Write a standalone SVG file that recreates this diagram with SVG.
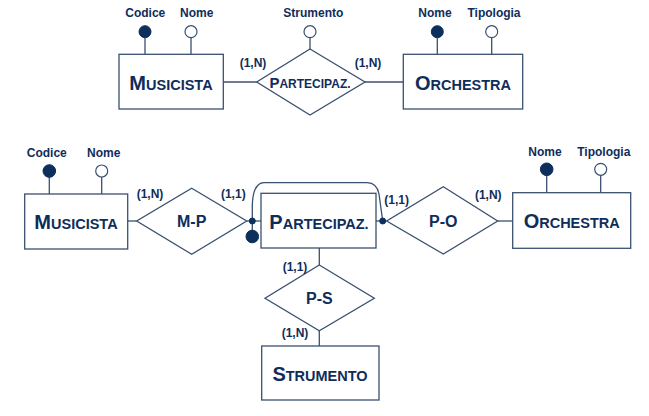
<svg xmlns="http://www.w3.org/2000/svg" width="649" height="416" viewBox="0 0 649 416">
<style>
.box{fill:#fff;stroke:#3a5070;stroke-width:1.3}
.ln{fill:none;stroke:#3a5070;stroke-width:1.3}
.key{fill:#0d2f5c;stroke:#0d2f5c;stroke-width:1}
.att{fill:#fff;stroke:#3a5070;stroke-width:1.2}
text{font-family:"Liberation Sans",Arial,sans-serif;font-weight:bold;fill:#0f2d5a}
.lab{font-size:12px;text-anchor:middle}
.card{font-size:12px;text-anchor:middle}
.ent{text-anchor:middle;font-size:14.5px}
.big{font-size:20px}
.rel{font-size:16px;text-anchor:middle}
</style>
<rect width="649" height="416" fill="#fff"/>

<g id="connectors">
  <!-- top -->
  <line class="ln" x1="223.3" y1="82" x2="256.7" y2="82"/>
  <line class="ln" x1="365" y1="82" x2="403.3" y2="82"/>
  <line class="ln" x1="145" y1="37.7" x2="145" y2="54.3"/>
  <line class="ln" x1="191" y1="37.7" x2="191" y2="54.3"/>
  <line class="ln" x1="310" y1="37.7" x2="310" y2="49"/>
  <line class="ln" x1="437.3" y1="37.7" x2="437.3" y2="54.3"/>
  <line class="ln" x1="491.7" y1="37.7" x2="491.7" y2="54.3"/>
  <!-- bottom -->
  <line class="ln" x1="49.3" y1="177" x2="49.3" y2="194"/>
  <line class="ln" x1="101.7" y1="177" x2="101.7" y2="194"/>
  <line class="ln" x1="546.7" y1="175" x2="546.7" y2="192.7"/>
  <line class="ln" x1="600.7" y1="175" x2="600.7" y2="192.7"/>
  <line class="ln" x1="127.7" y1="221" x2="136.7" y2="221"/>
  <line class="ln" x1="246.7" y1="221" x2="261" y2="221"/>
  <line class="ln" x1="376" y1="221" x2="386.7" y2="221"/>
  <line class="ln" x1="497.7" y1="221" x2="512.7" y2="221"/>
  <line class="ln" x1="319.3" y1="248" x2="319.3" y2="265"/>
  <line class="ln" x1="319.3" y1="330.7" x2="319.3" y2="346"/>
  <path class="ln" d="M252.3,221 L252.3,205 Q253,183 264,182.7 L367,182.7 Q377,183 379,194 L382.7,221"/>
  <line class="ln" x1="252.3" y1="221" x2="252.3" y2="231"/>
  <circle class="key" cx="252.3" cy="221" r="3"/>
  <circle class="key" cx="382.7" cy="221" r="3"/>
  <circle class="key" cx="252.3" cy="236.5" r="6.3"/>
</g>

<!-- top diagram -->
<g id="top-musicista">
  <rect class="box" x="119" y="54.3" width="104.3" height="54.7"/>
  <text class="ent" x="171" y="89.5"><tspan class="big">M</tspan>USICISTA</text>
</g>
<g id="top-musicista-codice">
  <circle class="key" cx="145" cy="31.7" r="6"/>
  <text class="lab" x="145.3" y="17">Codice</text>
</g>
<g id="top-musicista-nome">
  <circle class="att" cx="191" cy="31.7" r="6"/>
  <text class="lab" x="196.7" y="17">Nome</text>
</g>
<g id="top-partecipaz">
  <polygon class="box" points="310,49 365,82 310,115 256.7,82"/>
  <text x="310" y="87.5" text-anchor="middle" font-size="12px"><tspan font-size="15px">P</tspan>ARTECIPAZ.</text>
  <text class="card" x="253" y="67">(1,N)</text>
  <text class="card" x="368" y="67">(1,N)</text>
</g>
<g id="top-strumento">
  <circle class="att" cx="310" cy="31.7" r="6"/>
  <text class="lab" x="313.3" y="17">Strumento</text>
</g>
<g id="top-orchestra">
  <rect class="box" x="403.3" y="54.3" width="119.4" height="54.7"/>
  <text class="ent" x="463" y="89.5"><tspan class="big">O</tspan>RCHESTRA</text>
</g>
<g id="top-orchestra-nome">
  <circle class="key" cx="437.3" cy="31.7" r="6"/>
  <text class="lab" x="435" y="17">Nome</text>
</g>
<g id="top-orchestra-tipologia">
  <circle class="att" cx="491.7" cy="31.7" r="6"/>
  <text class="lab" x="494" y="17">Tipologia</text>
</g>

<!-- bottom diagram -->
<g id="musicista">
  <rect class="box" x="24.7" y="194" width="103" height="55"/>
  <text class="ent" x="76" y="228.5"><tspan class="big">M</tspan>USICISTA</text>
</g>
<g id="musicista-codice">
  <circle class="key" cx="49.3" cy="171" r="6.3"/>
  <text class="lab" x="46.8" y="157">Codice</text>
</g>
<g id="musicista-nome">
  <circle class="att" cx="101.7" cy="171" r="6"/>
  <text class="lab" x="103.7" y="157">Nome</text>
</g>
<g id="mp">
  <polygon class="box" points="191.7,188.3 246.7,221 191.7,254.3 136.7,221"/>
  <text class="rel" x="191.7" y="227">M-P</text>
  <text class="card" x="150" y="198">(1,N)</text>
  <text class="card" x="233.3" y="198">(1,1)</text>
</g>
<g id="partecipaz">
  <rect class="box" x="261" y="193.3" width="115" height="54.7"/>
  <text class="ent" x="319" y="228.5"><tspan class="big">P</tspan>ARTECIPAZ.</text>
</g>
<g id="po">
  <polygon class="box" points="443.3,186.7 497.7,221 443.3,254 386.7,221"/>
  <text class="rel" x="443.3" y="227">P-O</text>
  <text class="card" x="396.7" y="204">(1,1)</text>
  <text class="card" x="488.3" y="199">(1,N)</text>
</g>
<g id="orchestra">
  <rect class="box" x="512.7" y="192.7" width="118" height="55.6"/>
  <text class="ent" x="571.7" y="228"><tspan class="big">O</tspan>RCHESTRA</text>
</g>
<g id="orchestra-nome">
  <circle class="key" cx="546.7" cy="169.3" r="6.3"/>
  <text class="lab" x="545" y="156">Nome</text>
</g>
<g id="orchestra-tipologia">
  <circle class="att" cx="600.7" cy="169.3" r="6"/>
  <text class="lab" x="603.8" y="156">Tipologia</text>
</g>
<g id="ps">
  <polygon class="box" points="319.3,265 374.3,298.3 319.3,330.7 265,298.3"/>
  <text class="rel" x="319.3" y="304">P-S</text>
  <text class="card" x="295" y="271">(1,1)</text>
  <text class="card" x="295" y="337">(1,N)</text>
</g>
<g id="strumento">
  <rect class="box" x="261.7" y="346" width="117.3" height="54"/>
  <text class="ent" x="320" y="381"><tspan class="big">S</tspan>TRUMENTO</text>
</g>
</svg>
